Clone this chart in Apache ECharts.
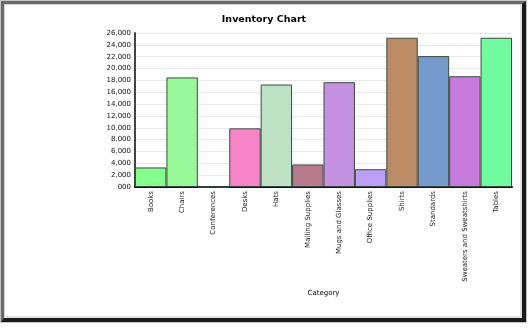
<!DOCTYPE html>
<html><head><meta charset="utf-8">
<script src="https://cdn.jsdelivr.net/npm/echarts@6/dist/echarts.min.js"></script>
<style>
html,body{margin:0;padding:0;background:#fff;}
#f1{position:absolute;left:0;top:0;width:527px;height:323px;box-sizing:border-box;border:1px solid #c4c4c4;}
#f2{position:absolute;left:1px;top:1px;width:525px;height:321px;box-sizing:border-box;border-top:3px solid #6a6a6a;border-left:3px solid #6a6a6a;border-right:4px solid #1a1a1a;border-bottom:4px solid #1a1a1a;}
#f3{position:absolute;left:4px;top:4px;width:518px;height:314px;box-sizing:border-box;border:1px solid #d4d4d4;border-right:2px solid #e4e4e4;border-bottom:2px solid #e4e4e4;}
#c{position:absolute;left:0;top:0;width:528px;height:330px;}
</style></head>
<body>
<div id="f1"></div><div id="f2"></div><div id="f3"></div>
<div id="c"></div>
<script>
const categories = ['Books','Chairs','Conferences','Desks','Hats','Mailing Supplies','Mugs and Glasses','Office Supplies','Shirts','Standards','Sweaters and Sweatshirts','Tables'];
const values = [3300,18500,0,9900,17300,3800,17700,3000,25200,22100,18700,25200];
const barColors = ['#84fc8e','#98f898','#ffffff','#f884c8','#bfe2c4','#b87a8c','#c492e0','#b9a0f6','#bb8c66','#769acb','#c77ade','#70fb9e'];
const yTickLabels = ['000','2,000','4,000','6,000','8,000','10,000','12,000','14,000','16,000','18,000','20,000','22,000','24,000','26,000'];
const titleText = 'Inventory Chart';
const xName = 'Category';

const chart = echarts.init(document.getElementById('c'), null, {renderer:'canvas'});
chart.setOption({
  backgroundColor: 'transparent',
  animation: false,
  title: {text: titleText, left: 'center', top: 10, textStyle:{fontFamily:'DejaVu Sans', fontSize:9.5, fontWeight:'bold', color:'#000'}},
  grid: {left: 135, right: 16, top: 33, bottom: 143},
  xAxis: {
    type: 'category', data: categories,
    name: xName, nameLocation: 'middle', nameGap: 103,
    nameTextStyle: {fontFamily:'DejaVu Sans', fontSize:7, color:'#000'},
    axisLine: {lineStyle:{color:'#111', width:2}},
    axisTick: {show:false},
    axisLabel: {rotate:90, interval:0, fontFamily:'DejaVu Sans', fontSize:7, color:'#222', margin:4}
  },
  yAxis: {
    type: 'value', min: 0, max: 26000, interval: 2000,
    axisLine: {show:true, lineStyle:{color:'#444', width:2}},
    axisTick: {show:false},
    splitLine: {lineStyle:{color:'#e8e8e8', width:1}},
    axisLabel: {fontFamily:'DejaVu Sans', fontSize:7, color:'#111', margin:4,
      formatter: function(v){ return yTickLabels[Math.round(v/2000)]; }}
  },
  series: [{
    type: 'bar', barCategoryGap: '0%',
    data: values.map((v,i)=>({value:v, itemStyle:{color:barColors[i]}})),
    itemStyle: {borderColor:'#3c4a44', borderWidth:1}
  }]
});
</script>
</body></html>
